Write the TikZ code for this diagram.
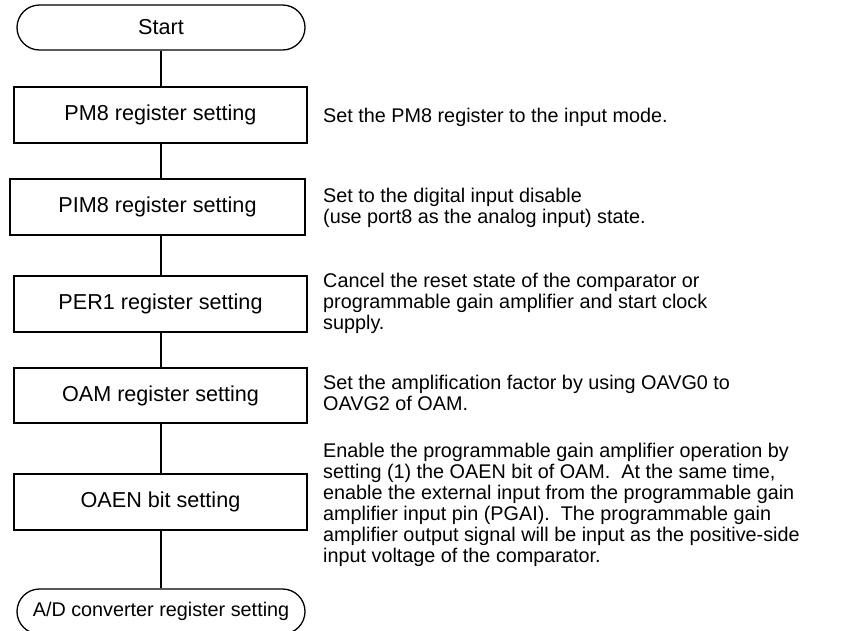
\documentclass[tikz,border=0pt]{standalone}
\usepackage{fontspec}
\setmainfont{Liberation Sans}
\begin{document}
\begin{tikzpicture}[x=1pt,y=-1pt]
\tikzset{
  flowline/.style={line width=1.3pt},
  procbox/.style={draw, line width=1.3pt, rectangle, minimum height=56pt, inner sep=0pt,
    font=\fontsize{21.6}{24}\selectfont},
  termbox/.style={draw, line width=1.3pt, rectangle, rounded corners=22.5pt,
    minimum width=288pt, minimum height=45pt, inner sep=0pt},
  note/.style={anchor=base west, inner sep=0pt, font=\fontsize{19.8}{21}\selectfont}
}
\useasboundingbox (0,0) rectangle (845,630);
\fill[white] (0,0) rectangle (845,630);

% flow nodes
\node[termbox, font=\fontsize{21.6}{24}\selectfont] (start) at (161,27.5) {Start};
\node[procbox, minimum width=293pt] (pm8) at (160.5,115) {PM8 register setting};
\node[procbox, minimum width=295pt] (pim8) at (157.5,207) {PIM8 register setting};
\node[procbox, minimum width=293pt] (per1) at (160.5,304) {PER1 register setting};
\node[procbox, minimum width=293pt, minimum height=55pt] (oam) at (160.5,395.5) {OAM register setting};
\node[procbox, minimum width=293pt] (oaen) at (160.5,502) {OAEN bit setting};
\node[termbox, font=\fontsize{19.8}{22}\selectfont] (adreg) at (161,611.5) {A/D converter register setting};

% connectors
\draw[flowline] (start.south) -- (start.south |- pm8.north);
\draw[flowline] (start.south |- pm8.south) -- (start.south |- pim8.north);
\draw[flowline] (start.south |- pim8.south) -- (start.south |- per1.north);
\draw[flowline] (start.south |- per1.south) -- (start.south |- oam.north);
\draw[flowline] (start.south |- oam.south) -- (start.south |- oaen.north);
\draw[flowline] (start.south |- oaen.south) -- (start.south |- adreg.north);

% notes
\node[note] (n1) at (323,122) {Set the PM8 register to the input mode.};
\node[note] (n2) at (323,202) {\vtop{\hbox{Set to the digital input disable}
  \hbox{(use port8 as the analog input) state.}}};
\node[note] (n3) at (323,287) {\vtop{\hbox{Cancel the reset state of the comparator or}
  \hbox{programmable gain amplifier and start clock}
  \hbox{supply.}}};
\node[note] (n4) at (323,389) {\vtop{\hbox{Set the amplification factor by using OAVG0 to}
  \hbox{OAVG2 of OAM.}}};
\node[note] (n5) at (323,457) {\vtop{\hbox{Enable the programmable gain amplifier operation by}
  \hbox{setting (1) the OAEN bit of OAM.\ \ At the same time,}
  \hbox{enable the external input from the programmable gain}
  \hbox{amplifier input pin (PGAI).\ \ The programmable gain}
  \hbox{amplifier output signal will be input as the positive-side}
  \hbox{input voltage of the comparator.}}};
\end{tikzpicture}
\end{document}
